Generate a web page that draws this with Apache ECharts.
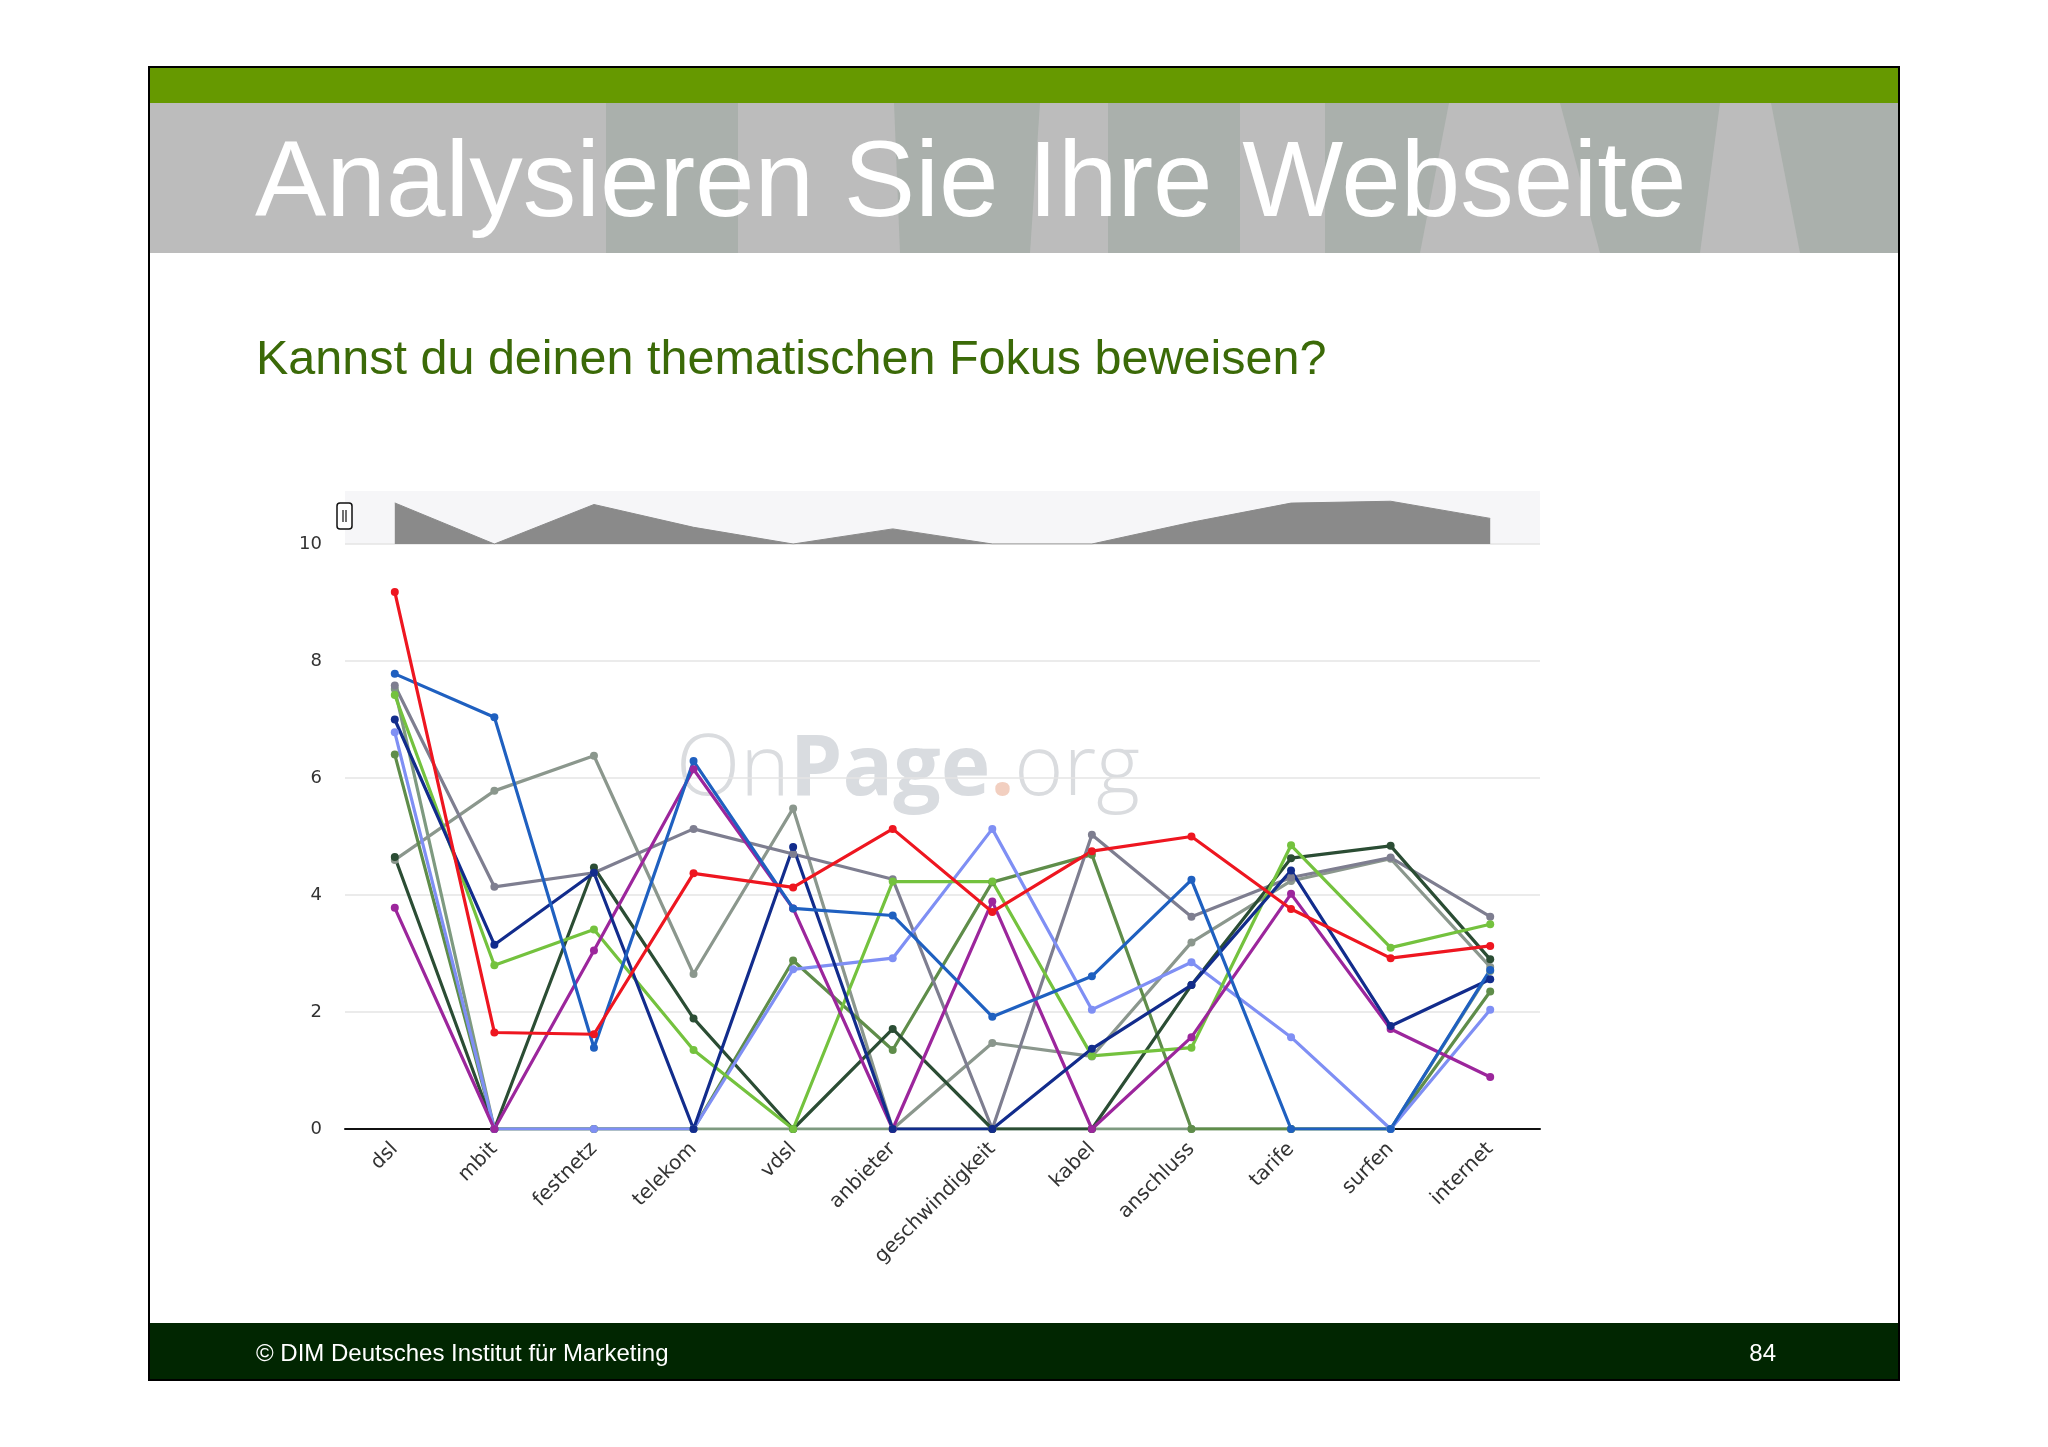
<!DOCTYPE html>
<html><head><meta charset="utf-8">
<script src="https://cdn.jsdelivr.net/npm/echarts@6/dist/echarts.min.js"></script>
<style>html,body{margin:0;padding:0;background:#fff;}#c{width:2048px;height:1447px;}</style>
</head><body><div id="c"></div>
<script>
const categories = ['dsl','mbit','festnetz','telekom','vdsl','anbieter','geschwindigkeit','kabel','anschluss','tarife','surfen','internet'];
const yTicks = [0, 2, 4, 6, 8, 10];
const red       = [9.18, 1.65, 1.62, 4.37, 4.13, 5.13, 3.71, 4.75, 5.00, 3.76, 2.92, 3.13];
const blue      = [7.78, 7.04, 1.39, 6.29, 3.77, 3.65, 1.92, 2.61, 4.26, 0, 0, 2.72];
const navy      = [7.00, 3.15, 4.38, 0, 4.82, 0, 0, 1.37, 2.46, 4.42, 1.76, 2.56];
const lightblue = [6.78, 0, 0, 0, 2.73, 2.92, 5.13, 2.04, 2.85, 1.57, 0, 2.04];
const purple    = [3.78, 0, 3.05, 6.15, 3.77, 0, 3.89, 0, 1.57, 4.02, 1.71, 0.89];
const green     = [7.42, 2.80, 3.41, 1.35, 0, 4.23, 4.23, 1.25, 1.39, 4.85, 3.10, 3.50];
const darkgreen = [4.65, 0, 4.47, 1.89, 0, 1.71, 0, 0, 2.46, 4.63, 4.84, 2.90];
const olive     = [6.40, 0, 0, 0, 2.88, 1.35, 4.22, 4.69, 0, 0, 0, 2.35];
const gray      = [4.60, 5.78, 6.38, 2.65, 5.48, 0, 1.47, 1.24, 3.19, 4.24, 4.62, 2.77];
const slate     = [7.58, 4.14, 4.38, 5.13, 4.70, 4.27, 0, 5.03, 3.63, 4.30, 4.64, 3.63];
const sage      = [7.52, 0, 0, 0, 0, 0, 0, 0, 0, 0, 0, 2.70];

const seriesDefs = [
  ['sage', sage, '#7e9a80'],
  ['gray', gray, '#8b978d'],
  ['olive', olive, '#5f8d4a'],
  ['slate', slate, '#7e7e90'],
  ['darkgreen', darkgreen, '#2b4d34'],
  ['lightblue', lightblue, '#7f8ff4'],
  ['green', green, '#74c23e'],
  ['purple', purple, '#9c269c'],
  ['navy', navy, '#122c8c'],
  ['blue', blue, '#1f60c0'],
  ['red', red, '#ee1620']
];

const chart = echarts.init(document.getElementById('c'), null, {renderer: 'canvas'});

const series = seriesDefs.map(([name, data, color]) => ({
  name, type: 'line', data, xAxisIndex: 0, yAxisIndex: 0,
  symbol: 'circle', symbolSize: 8, showSymbol: true,
  lineStyle: {color, width: 3.2}, itemStyle: {color},
  z: 3, animation: false
}));
series.push({
  name: 'navigator', type: 'line', data: darkgreen, xAxisIndex: 1, yAxisIndex: 1,
  symbol: 'none', lineStyle: {color: '#8a8a8a', width: 1},
  areaStyle: {color: '#8a8a8a', opacity: 1}, animation: false
});

const stripe = '#aab0ac';
const graphics = [
  {type: 'rect', shape: {x: 150, y: 68, width: 1748, height: 36}, style: {fill: '#669900'}, z: 1},
  {type: 'rect', shape: {x: 150, y: 103, width: 1748, height: 150}, style: {fill: '#bcbcbc'}, z: 1},
  {type: 'rect', shape: {x: 606, y: 103, width: 132, height: 150}, style: {fill: stripe}, z: 1},
  {type: 'polygon', shape: {points: [[894,103],[1040,103],[1030,253],[900,253]]}, style: {fill: stripe}, z: 1},
  {type: 'rect', shape: {x: 1108, y: 103, width: 132, height: 150}, style: {fill: stripe}, z: 1},
  {type: 'polygon', shape: {points: [[1325,103],[1449,103],[1420,253],[1325,253]]}, style: {fill: stripe}, z: 1},
  {type: 'polygon', shape: {points: [[1560,103],[1720,103],[1700,253],[1600,253]]}, style: {fill: stripe}, z: 1},
  {type: 'polygon', shape: {points: [[1771,103],[1898,103],[1898,253],[1800,253]]}, style: {fill: stripe}, z: 1},
  {type: 'rect', shape: {x: 150, y: 1323, width: 1748, height: 56}, style: {fill: '#012601'}, z: 1},
  {type: 'rect', shape: {x: 149, y: 67, width: 1750, height: 1313}, style: {fill: 'none', stroke: '#000', lineWidth: 2}, z: 5},
  {type: 'text', x: 255, y: 186, style: {text: 'Analysieren Sie Ihre Webseite', fill: '#ffffff', font: '107px "Liberation Sans", Arial, sans-serif', textAlign: 'left', textVerticalAlign: 'middle'}, z: 6},
  {type: 'text', x: 256, y: 361, style: {text: 'Kannst du deinen thematischen Fokus beweisen?', fill: '#3b6a08', font: '48.5px "Liberation Sans", Arial, sans-serif', textAlign: 'left', textVerticalAlign: 'middle'}, z: 6},
  {type: 'text', x: 256, y: 1354, style: {text: '© DIM Deutsches Institut für Marketing', fill: '#ffffff', font: '24px "Liberation Sans", Arial, sans-serif', textAlign: 'left', textVerticalAlign: 'middle'}, z: 6},
  {type: 'text', x: 1776, y: 1354, style: {text: '84', fill: '#ffffff', font: '24px "Liberation Sans", Arial, sans-serif', textAlign: 'right', textVerticalAlign: 'middle'}, z: 6},
  {type: 'text', x: 908, y: 771, style: {
      text: '{a|On}{b|Page}{c|.}{a|org}', textAlign: 'center', textVerticalAlign: 'middle',
      rich: {
        a: {fill: '#dadcdf', fontFamily: '"Open Sans", sans-serif', fontSize: 84, fontWeight: 300},
        b: {fill: '#d9dce0', fontFamily: '"Open Sans", sans-serif', fontSize: 84, fontWeight: 'bold'},
        c: {fill: '#f2cfc0', fontFamily: '"Open Sans", sans-serif', fontSize: 84, fontWeight: 'bold'}
      }}, z: 0},
  {type: 'group', x: 337, y: 503, z: 6, children: [
    {type: 'rect', shape: {x: 0, y: 0, width: 15, height: 26, r: 3}, style: {fill: '#ffffff', stroke: '#111', lineWidth: 1.5}},
    {type: 'line', shape: {x1: 6, y1: 7, x2: 6, y2: 19}, style: {stroke: '#111', lineWidth: 1.2}},
    {type: 'line', shape: {x1: 9, y1: 7, x2: 9, y2: 19}, style: {stroke: '#111', lineWidth: 1.2}}
  ]}
];

chart.setOption({
  animation: false,
  backgroundColor: '#ffffff',
  grid: [
    {left: 345, top: 544, width: 1195, height: 585, containLabel: false},
    {left: 345, top: 491, width: 1195, height: 53, show: true, backgroundColor: '#f6f6f8', borderWidth: 0}
  ],
  xAxis: [
    {type: 'category', gridIndex: 0, data: categories, boundaryGap: true,
     axisLine: {show: true, lineStyle: {color: '#111', width: 2}}, axisTick: {show: false},
     axisLabel: {rotate: 45, color: '#333', fontSize: 20, fontFamily: '"DejaVu Sans", Verdana, sans-serif', margin: 17},
     splitLine: {show: false}},
    {type: 'category', gridIndex: 1, data: categories, boundaryGap: true, show: false}
  ],
  yAxis: [
    {type: 'value', gridIndex: 0, min: yTicks[0], max: yTicks[yTicks.length - 1], interval: yTicks[1] - yTicks[0],
     axisLine: {show: false}, axisTick: {show: false},
     axisLabel: {color: '#333', fontSize: 18, fontFamily: '"DejaVu Sans", Verdana, sans-serif', margin: 23, padding: [6, 0, 0, 0]},
     splitLine: {show: true, lineStyle: {color: '#e4e4e4', width: 1.5}}},
    {type: 'value', gridIndex: 1, min: 0, max: 6, show: false, splitLine: {show: false}}
  ],
  graphic: graphics,
  series
});
</script></body></html>
